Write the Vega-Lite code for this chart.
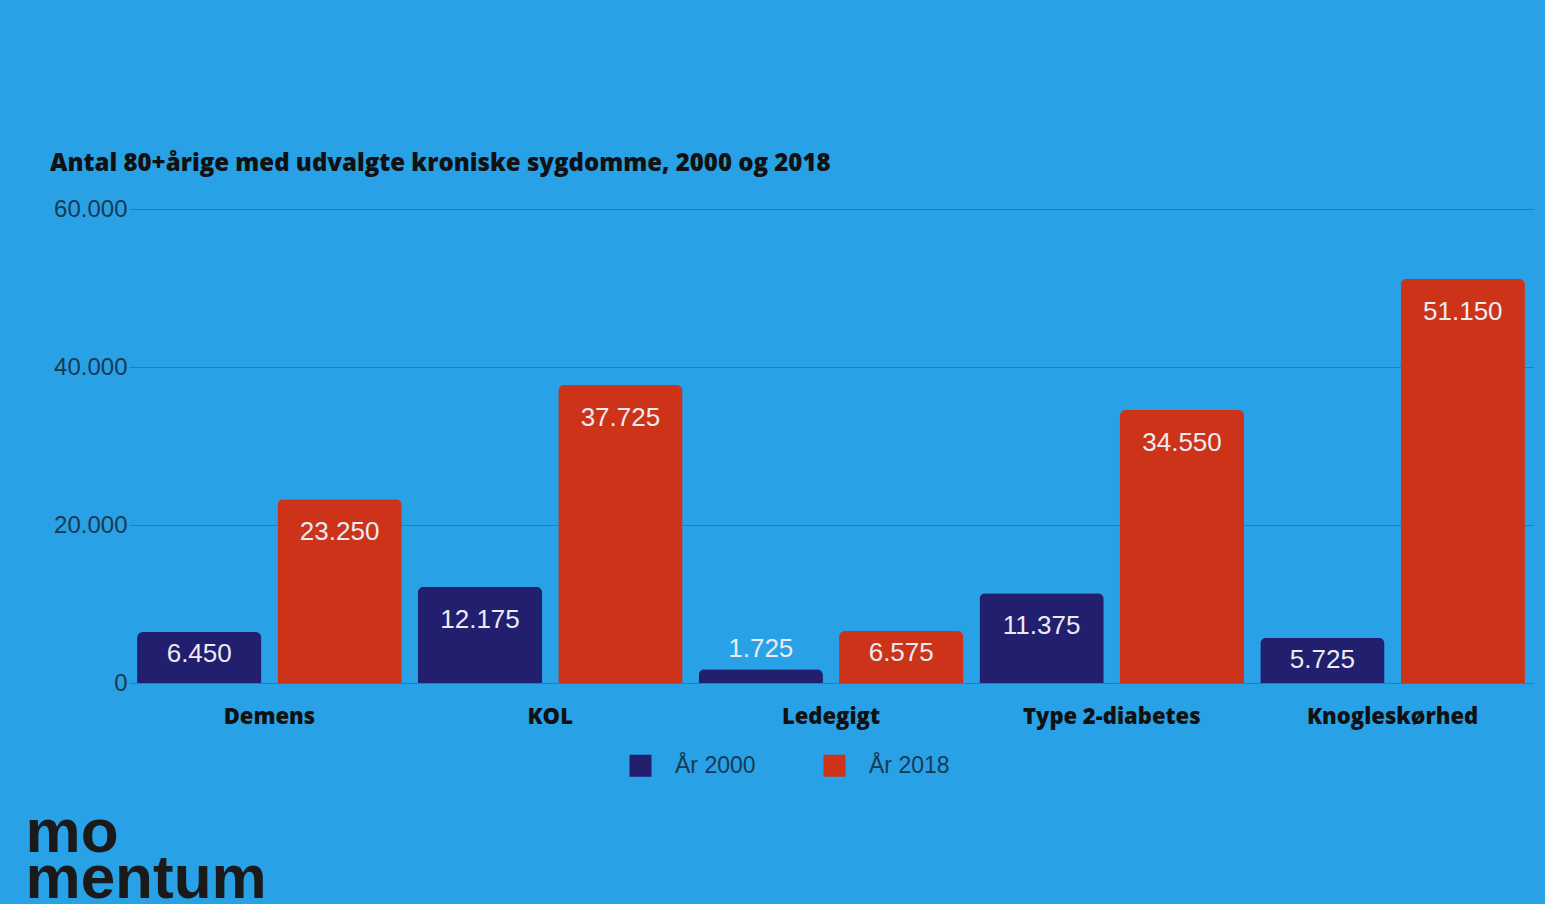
{
  "$schema": "https://vega.github.io/schema/vega-lite/v6.json",
  "autosize": {"type": "none"},
  "width": 1404,
  "height": 474,
  "padding": {"left": 129, "top": 209, "right": 12, "bottom": 221},
  "background": "#29a1e6",
  "config": {
    "view": {"stroke": null},
    "locale": {"number": {"decimal": ",", "thousands": ".", "grouping": [3], "currency": ["", " kr."]}}
  },
  "title": {
    "text": "Antal 80+årige med udvalgte kroniske sygdomme, 2000 og 2018",
    "anchor": "start",
    "frame": "group",
    "dx": -79,
    "offset": 21,
    "font": "Open Sans",
    "fontWeight": 800,
    "fontSize": 24,
    "color": "#111111"
  },
  "data": {
    "values": [
      {"sygdom": "Demens", "aar": "År 2000", "antal": 6450},
      {"sygdom": "Demens", "aar": "År 2018", "antal": 23250},
      {"sygdom": "KOL", "aar": "År 2000", "antal": 12175},
      {"sygdom": "KOL", "aar": "År 2018", "antal": 37725},
      {"sygdom": "Ledegigt", "aar": "År 2000", "antal": 1725},
      {"sygdom": "Ledegigt", "aar": "År 2018", "antal": 6575},
      {"sygdom": "Type 2-diabetes", "aar": "År 2000", "antal": 11375},
      {"sygdom": "Type 2-diabetes", "aar": "År 2018", "antal": 34550},
      {"sygdom": "Knogleskørhed", "aar": "År 2000", "antal": 5725},
      {"sygdom": "Knogleskørhed", "aar": "År 2018", "antal": 51150}
    ]
  },
  "encoding": {
    "x": {
      "field": "sygdom",
      "type": "nominal",
      "sort": ["Demens", "KOL", "Ledegigt", "Type 2-diabetes", "Knogleskørhed"],
      "scale": {"paddingInner": 0, "paddingOuter": 0},
      "axis": {
        "title": ["mo", "mentum"],
        "titleFont": "Liberation Sans",
        "titleFontWeight": "bold",
        "titleFontSize": 62,
        "titleLineHeight": 46,
        "titleColor": "#1a1a1a",
        "titleAnchor": "start",
        "titleAlign": "left",
        "titleBaseline": "alphabetic",
        "titleX": -104,
        "titleY": 168,
        "labelAngle": 0,
        "labelFont": "Open Sans",
        "labelFontWeight": 800,
        "labelFontSize": 22,
        "labelColor": "#111111",
        "labelPadding": 23,
        "ticks": false,
        "domain": false,
        "grid": false
      }
    },
    "xOffset": {
      "field": "aar",
      "type": "nominal",
      "scale": {"paddingInner": 0.115, "paddingOuter": 0.0575}
    },
    "y": {
      "field": "antal",
      "type": "quantitative",
      "scale": {"domain": [0, 60000], "nice": false},
      "axis": {
        "title": null,
        "values": [0, 20000, 40000, 60000],
        "format": ",d",
        "labelFont": "Liberation Sans",
        "labelFontSize": 24,
        "labelColor": "#173a52",
        "labelPadding": 2,
        "ticks": false,
        "domain": false,
        "grid": true,
        "gridColor": "#1f7fc0",
        "gridWidth": 1.2
      }
    }
  },
  "layer": [
    {
      "mark": {"type": "bar", "cornerRadiusTopLeft": 6, "cornerRadiusTopRight": 6},
      "encoding": {
        "color": {
          "field": "aar",
          "type": "nominal",
          "scale": {"domain": ["År 2000", "År 2018"], "range": ["#221f6e", "#cc3319"]},
          "legend": {
            "title": null,
            "orient": "none",
            "legendX": 500,
            "legendY": 545,
            "direction": "horizontal",
            "symbolType": "square",
            "symbolSize": 484,
            "symbolStrokeWidth": 0,
            "labelFont": "Liberation Sans",
            "labelFontSize": 23,
            "labelColor": "#173a52",
            "labelOffset": 23,
            "columnPadding": 67
          }
        }
      }
    },
    {
      "transform": [{"filter": "datum.antal >= 8000"}],
      "mark": {"type": "text", "baseline": "middle", "dy": 33, "font": "Liberation Sans", "fontSize": 26, "color": "#ecebf3"},
      "encoding": {"text": {"field": "antal", "type": "quantitative", "format": ",d"}}
    },
    {
      "transform": [{"filter": "datum.antal >= 2000 && datum.antal < 8000"}],
      "mark": {"type": "text", "baseline": "middle", "dy": 22, "font": "Liberation Sans", "fontSize": 26, "color": "#ecebf3"},
      "encoding": {"text": {"field": "antal", "type": "quantitative", "format": ",d"}}
    },
    {
      "transform": [{"filter": "datum.antal < 2000"}],
      "mark": {"type": "text", "baseline": "middle", "dy": -20, "font": "Liberation Sans", "fontSize": 26, "color": "#ecebf3"},
      "encoding": {"text": {"field": "antal", "type": "quantitative", "format": ",d"}}
    }
  ]
}
